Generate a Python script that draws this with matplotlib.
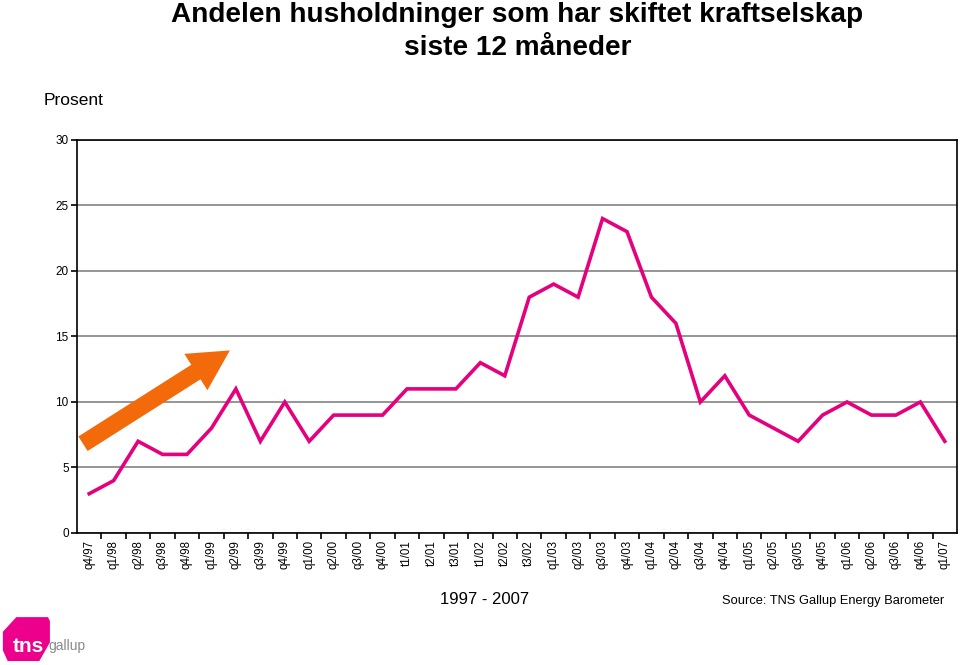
import matplotlib
matplotlib.use("Agg")
import matplotlib.pyplot as plt
from matplotlib.patches import Polygon

plt.rcParams['font.family'] = ['Liberation Sans', 'DejaVu Sans']

# quarters (t = tertial for 2001-2002)
labels = ['q4/97', 'q1/98', 'q2/98', 'q3/98', 'q4/98', 'q1/99', 'q2/99', 'q3/99',
          'q4/99', 'q1/00', 'q2/00', 'q3/00', 'q4/00', 't1/01', 't2/01', 't3/01',
          't1/02', 't2/02', 't3/02', 'q1/03', 'q2/03', 'q3/03', 'q4/03', 'q1/04',
          'q2/04', 'q3/04', 'q4/04', 'q1/05', 'q2/05', 'q3/05', 'q4/05', 'q1/06',
          'q2/06', 'q3/06', 'q4/06', 'q1/07']
values = [3, 4, 7, 6, 6, 8, 11, 7, 10, 7, 9, 9, 9, 11, 11, 11, 13, 12, 18, 19, 18,
          24, 23, 18, 16, 10, 12, 9, 8, 7, 9, 10, 9, 9, 10, 7]
yticks = [0, 5, 10, 15, 20, 25, 30]

# trend arrow (data coords): tail -> head
arrow_tail = (-0.35, 6.7)
arrow_head = (5.85, 14.05)

fig = plt.figure(figsize=(9.6, 6.65), dpi=100)
ax = fig.add_axes([0.0802, 0.1985, 0.9167, 0.591])

x = list(range(len(values)))
ax.plot(x, values, color='#E5007D', lw=2.6, solid_joinstyle='miter', zorder=3)

ax.set_xlim(-0.5, len(values) - 0.5)
ax.set_ylim(0, 30)
ax.set_yticks(yticks)
ax.tick_params(axis='y', labelsize=8.5, length=4, width=1.2, pad=2)
ax.yaxis.grid(True, color='#8c8c8c', lw=1.3)
ax.set_axisbelow(True)

ax.set_xticks(x)
ax.set_xticklabels(labels, rotation=90, fontsize=8.3)
ax.tick_params(axis='x', which='major', length=0, pad=5)
ax.set_xticks([i + 0.5 for i in x[:-1]], minor=True)
ax.tick_params(axis='x', which='minor', length=4, width=1.2, direction='out')

for s in ax.spines.values():
    s.set_color('black')
    s.set_linewidth(1.2)

ax.annotate('', xy=arrow_head, xytext=arrow_tail,
            arrowprops=dict(arrowstyle='simple,head_length=1.45,head_width=1.55,tail_width=0.62',
                            color='#F26A0A', lw=0, mutation_scale=20),
            zorder=4, annotation_clip=False)

fig.text(0.539, 0.967, 'Andelen husholdninger som har skiftet kraftselskap',
         ha='center', va='baseline', fontsize=20.2, fontweight='bold')
fig.text(0.539, 0.917, 'siste 12 måneder',
         ha='center', va='baseline', fontsize=20.2, fontweight='bold')
fig.text(0.045, 0.849, 'Prosent', ha='left', va='center', fontsize=12.5)
fig.text(0.505, 0.098, '1997 - 2007', ha='center', va='center', fontsize=12)
fig.text(0.984, 0.096, 'Source: TNS Gallup Energy Barometer', ha='right', va='center', fontsize=9.3)

# tns gallup logo
logo = Polygon([(0.003, 0.022), (0.003, 0.050), (0.017, 0.072), (0.050, 0.072),
                (0.052, 0.066), (0.052, 0.034), (0.041, 0.006), (0.008, 0.006)],
               closed=True, transform=fig.transFigure, color='#EC008C', lw=0)
fig.patches.append(logo)
fig.text(0.013, 0.028, 'tns', color='white', fontsize=15, fontweight='bold',
         ha='left', va='center')
fig.text(0.050, 0.029, 'gallup', color='#8a8a8a', fontsize=10, ha='left', va='center')

fig.savefig('out.png', dpi=100)
